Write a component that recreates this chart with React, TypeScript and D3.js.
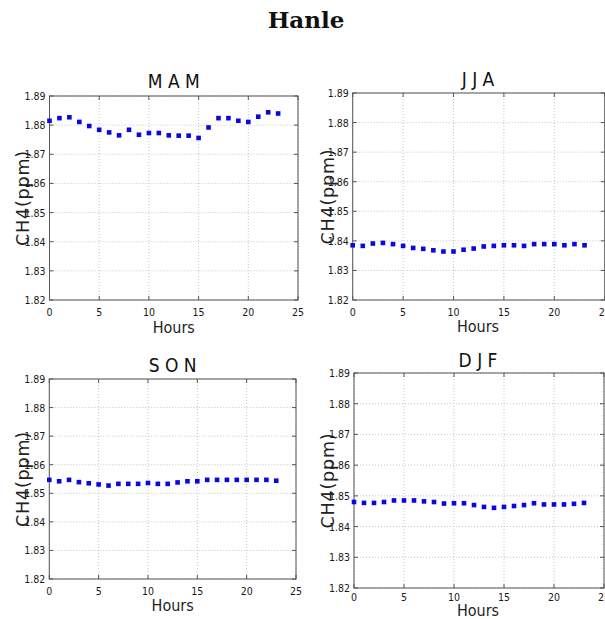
import React from "react";
import * as d3 from "d3";

// Mean diurnal CH4 (ppm) at Hanle for each season, hourly 0–23
const hours: number[] = d3.range(0, 24);

const mamValues: number[] = [
  1.8815, 1.8824, 1.8827, 1.8811, 1.8797, 1.8784, 1.8775, 1.8765, 1.8784, 1.8767,
  1.8773, 1.8773, 1.8765, 1.8764, 1.8764, 1.8756, 1.8792, 1.8824, 1.8824, 1.8815,
  1.8811, 1.8829, 1.8844, 1.884,
];
const jjaValues: number[] = [
  1.8385, 1.8383, 1.8391, 1.8393, 1.8389, 1.8383, 1.8376, 1.8373, 1.8368, 1.8364,
  1.8364, 1.837, 1.8374, 1.8381, 1.8383, 1.8385, 1.8385, 1.8383, 1.8389, 1.8389,
  1.8389, 1.8385, 1.8389, 1.8385,
];
const sonValues: number[] = [
  1.8547, 1.8542, 1.8547, 1.8539, 1.8535, 1.8531, 1.8527, 1.8533, 1.8533, 1.8533,
  1.8536, 1.8533, 1.8533, 1.8538, 1.8542, 1.8542, 1.8547, 1.8547, 1.8547, 1.8547,
  1.8547, 1.8547, 1.8547, 1.8544,
];
const djfValues: number[] = [
  1.848, 1.8477, 1.8477, 1.848, 1.8485, 1.8485, 1.8485, 1.8482, 1.848, 1.8475,
  1.8476, 1.8476, 1.847, 1.8464, 1.8461, 1.8464, 1.8467, 1.847, 1.8476, 1.8472,
  1.8472, 1.8472, 1.8474, 1.8477,
];

const seasons: string[] = ["M A M", "J J A", "S O N", "D J F"];
const xTicks: number[] = [0, 5, 10, 15, 20, 25];
const yTicks: number[] = [1.82, 1.83, 1.84, 1.85, 1.86, 1.87, 1.88, 1.89];
const chartTitle = "Hanle";
const xLabel = "Hours";
const yLabel = "CH4(ppm)";

// Plot-area boxes for the four panels
const panelBoxes = [
  { left: 49.5, right: 298, top: 96, bottom: 300, titleY: 88, tickY: 16, xLabelY: 333, yLabelX: 29 },
  { left: 352.7, right: 604.7, top: 93, bottom: 300, titleY: 86, tickY: 16, xLabelY: 332, yLabelX: 334 },
  { left: 49.3, right: 296, top: 379, bottom: 579, titleY: 372, tickY: 16, xLabelY: 611, yLabelX: 29 },
  { left: 354, right: 604, top: 373, bottom: 588, titleY: 367, tickY: 13, xLabelY: 616, yLabelX: 334 },
];

const seriesList: number[][] = [mamValues, jjaValues, sonValues, djfValues];

const tickFont = "'DejaVu Sans Condensed', 'DejaVu Sans', sans-serif";
const markerColor = "#0808e0";
const markerSize = 4.6;

function Panel({ idx }: { idx: number }) {
  const b = panelBoxes[idx];
  const values = seriesList[idx];
  const x = d3.scaleLinear().domain([0, 25]).range([b.left, b.right]);
  const y = d3.scaleLinear().domain([1.82, 1.89]).range([b.bottom, b.top]);
  const plotCx = idx % 2 === 0 ? (b.left + b.right) / 2 : 478;
  const yMid = (b.top + b.bottom) / 2;
  return (
    <g>
      {/* dotted grid */}
      {xTicks.map((t) => (
        <line key={"gx" + t} x1={x(t)} x2={x(t)} y1={b.top} y2={b.bottom}
          stroke="#c4c4c4" strokeWidth={1} strokeDasharray="1,2" />
      ))}
      {yTicks.map((t) => (
        <line key={"gy" + t} x1={b.left} x2={b.right} y1={y(t)} y2={y(t)}
          stroke="#c4c4c4" strokeWidth={1} strokeDasharray="1,2" />
      ))}
      {/* inward ticks on all sides */}
      {xTicks.map((t) => (
        <g key={"tx" + t}>
          <line x1={x(t)} x2={x(t)} y1={b.bottom} y2={b.bottom - 4} stroke="#555" />
          <line x1={x(t)} x2={x(t)} y1={b.top} y2={b.top + 4} stroke="#555" />
        </g>
      ))}
      {yTicks.map((t) => (
        <g key={"ty" + t}>
          <line x1={b.left} x2={b.left + 4} y1={y(t)} y2={y(t)} stroke="#555" />
          <line x1={b.right} x2={b.right - 4} y1={y(t)} y2={y(t)} stroke="#555" />
        </g>
      ))}
      {/* frame */}
      <rect x={b.left} y={b.top} width={b.right - b.left} height={b.bottom - b.top}
        fill="none" stroke="#555" strokeWidth={1} />
      {/* tick labels */}
      {xTicks.map((t) => (
        <text key={"lx" + t} x={x(t)} y={b.bottom + b.tickY} textAnchor="middle"
          fontFamily={tickFont} fontSize={10.5} fill="#1a1a1a">{t}</text>
      ))}
      {yTicks.map((t) => (
        <text key={"ly" + t} x={b.left - 4} y={y(t) + 4} textAnchor="end"
          fontFamily={tickFont} fontSize={10.5} fill="#1a1a1a">{t.toFixed(2)}</text>
      ))}
      {/* markers */}
      {values.map((v, i) => (
        <rect key={"m" + i} x={x(hours[i]) - markerSize / 2} y={y(v) - markerSize / 2}
          width={markerSize} height={markerSize} fill={markerColor} />
      ))}
      {/* panel title */}
      <text x={plotCx} y={b.titleY} textAnchor="middle" fontFamily={tickFont}
        fontSize={19} fill="#111">{seasons[idx]}</text>
      {/* axis labels */}
      <text x={plotCx} y={b.xLabelY} textAnchor="middle" fontFamily={tickFont}
        fontSize={16} fill="#222">{xLabel}</text>
      <text transform={`translate(${b.yLabelX},${yMid}) rotate(-90)`} textAnchor="middle"
        fontFamily="'DejaVu Sans', sans-serif" fontSize={17.5} letterSpacing={0.8} fill="#222">
        {yLabel}
      </text>
    </g>
  );
}

export default function App() {
  return (
    <svg width={605} height={619} style={{ position: "absolute", left: 0, top: 0, background: "#fff" }}>
      <rect width={605} height={619} fill="#fff" />
      <text x={306} y={28} textAnchor="middle" fontFamily="'DejaVu Serif', serif"
        fontWeight="bold" fontSize={23} fill="#111">{chartTitle}</text>
      {[0, 1, 2, 3].map((i) => <Panel key={i} idx={i} />)}
    </svg>
  );
}
